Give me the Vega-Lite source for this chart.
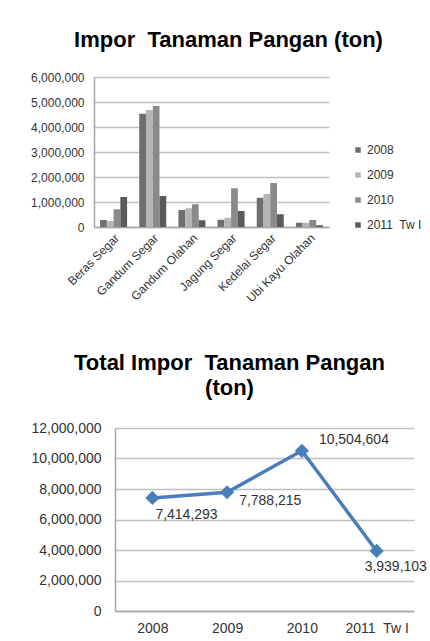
{
  "$schema": "https://vega.github.io/schema/vega-lite/v6.json",
  "background": "white",
  "padding": {"left": 29, "top": 29, "right": 0, "bottom": 0},
  "spacing": 48,
  "config": {
    "font": "Liberation Sans",
    "view": {"stroke": null},
    "axis": {"labelFont": "Liberation Sans", "labelColor": "#333333"},
    "legend": {"labelFont": "Liberation Sans", "labelColor": "#333333"},
    "title": {"font": "Liberation Sans", "color": "#000000", "fontWeight": "bold"}
  },
  "datasets": {
    "items": [
      {"item": "Beras Segar", "year": "2008", "value": 280000},
      {"item": "Beras Segar", "year": "2009", "value": 240000},
      {"item": "Beras Segar", "year": "2010", "value": 710000},
      {"item": "Beras Segar", "year": "2011\u00a0 Tw I", "value": 1200000},
      {"item": "Gandum Segar", "year": "2008", "value": 4530000},
      {"item": "Gandum Segar", "year": "2009", "value": 4680000},
      {"item": "Gandum Segar", "year": "2010", "value": 4840000},
      {"item": "Gandum Segar", "year": "2011\u00a0 Tw I", "value": 1240000},
      {"item": "Gandum Olahan", "year": "2008", "value": 680000},
      {"item": "Gandum Olahan", "year": "2009", "value": 750000},
      {"item": "Gandum Olahan", "year": "2010", "value": 910000},
      {"item": "Gandum Olahan", "year": "2011\u00a0 Tw I", "value": 270000},
      {"item": "Jagung Segar", "year": "2008", "value": 290000},
      {"item": "Jagung Segar", "year": "2009", "value": 370000},
      {"item": "Jagung Segar", "year": "2010", "value": 1550000},
      {"item": "Jagung Segar", "year": "2011\u00a0 Tw I", "value": 640000},
      {"item": "Kedelai Segar", "year": "2008", "value": 1170000},
      {"item": "Kedelai Segar", "year": "2009", "value": 1320000},
      {"item": "Kedelai Segar", "year": "2010", "value": 1760000},
      {"item": "Kedelai Segar", "year": "2011\u00a0 Tw I", "value": 510000},
      {"item": "Ubi Kayu Olahan", "year": "2008", "value": 170000},
      {"item": "Ubi Kayu Olahan", "year": "2009", "value": 170000},
      {"item": "Ubi Kayu Olahan", "year": "2010", "value": 280000},
      {"item": "Ubi Kayu Olahan", "year": "2011\u00a0 Tw I", "value": 70000}
    ],
    "totals": [
      {"year": "2008", "total": 7414293},
      {"year": "2009", "total": 7788215},
      {"year": "2010", "total": 10504604},
      {"year": "2011\u00a0 Tw I", "total": 3939103}
    ],
    "empty": []
  },
  "vconcat": [
    {
      "spacing": 0,
      "hconcat": [
        {"width": 1, "height": 1, "data": {"name": "empty"}, "mark": {"type": "point"}, "encoding": {}},
        {
          "title": {"text": "Impor\u00a0 Tanaman Pangan (ton)", "fontSize": 22, "offset": 19, "anchor": "middle", "frame": "group", "dx": 17},
          "width": 235,
          "height": 150,
          "data": {"name": "items"},
          "mark": {"type": "bar"},
          "encoding": {
            "x": {
              "field": "item", "type": "nominal", "sort": null,
              "scale": {"paddingInner": 0.31, "paddingOuter": 0.155},
              "axis": {"title": null, "labelAngle": -45, "labelFontSize": 12, "ticks": false, "domainColor": "#a6a6a6", "domainWidth": 1.5, "labelPadding": 5}
            },
            "xOffset": {"field": "year", "type": "nominal", "sort": null},
            "y": {
              "field": "value", "type": "quantitative",
              "scale": {"domain": [0, 6000000]},
              "axis": {"title": null, "values": [0, 1000000, 2000000, 3000000, 4000000, 5000000, 6000000], "format": ",d", "labelFontSize": 12, "ticks": false, "labelPadding": 10, "gridColor": "#c0c0c0", "gridWidth": 1.5, "domainColor": "#a6a6a6", "domainWidth": 1.5}
            },
            "color": {
              "field": "year", "type": "nominal", "sort": null,
              "scale": {"range": ["#6e6e6e", "#b5b5b5", "#8a8a8a", "#5a5a5a"]},
              "legend": {"title": null, "orient": "none", "legendX": 323, "legendY": 67, "symbolType": "square", "symbolSize": 30, "symbolStrokeWidth": 0, "labelFontSize": 12, "labelOffset": 3, "rowPadding": 13, "padding": 0}
            }
          }
        }
      ]
    },
    {
      "spacing": 0,
      "hconcat": [
        {"width": 1, "height": 1, "data": {"name": "empty"}, "mark": {"type": "point"}, "encoding": {}},
        {
          "title": {"text": ["Total Impor\u00a0 Tanaman Pangan", "(ton)"], "fontSize": 22, "lineHeight": 25, "offset": 21, "anchor": "middle", "frame": "group", "dx": -35},
          "width": 299,
          "height": 183,
          "data": {"name": "totals"},
          "encoding": {
            "x": {
              "field": "year", "type": "nominal", "sort": null,
              "axis": {"title": null, "labelAngle": 0, "labelFontSize": 14, "ticks": false, "domainColor": "#a6a6a6", "domainWidth": 1.5, "labelPadding": 10}
            },
            "y": {
              "field": "total", "type": "quantitative",
              "scale": {"domain": [0, 12000000]},
              "axis": {"title": null, "values": [0, 2000000, 4000000, 6000000, 8000000, 10000000, 12000000], "format": ",d", "labelFontSize": 14, "ticks": false, "labelPadding": 14, "gridColor": "#c0c0c0", "gridWidth": 1.5, "domainColor": "#a6a6a6", "domainWidth": 1.5}
            }
          },
          "layer": [
            {"mark": {"type": "line", "color": "#4a7ebb", "strokeWidth": 3.5}},
            {"mark": {"type": "point", "shape": "diamond", "filled": true, "size": 200, "color": "#4a7ebb", "opacity": 1}},
            {
              "transform": [{"filter": "datum.total == 7414293"}],
              "mark": {"type": "text", "align": "left", "baseline": "middle", "dx": 3, "dy": 17, "fontSize": 14, "color": "#333333"},
              "encoding": {"text": {"field": "total", "type": "quantitative", "format": ",d"}}
            },
            {
              "transform": [{"filter": "datum.total == 7788215"}],
              "mark": {"type": "text", "align": "left", "baseline": "middle", "dx": 12, "dy": 9, "fontSize": 14, "color": "#333333"},
              "encoding": {"text": {"field": "total", "type": "quantitative", "format": ",d"}}
            },
            {
              "transform": [{"filter": "datum.total == 10504604"}],
              "mark": {"type": "text", "align": "left", "baseline": "middle", "dx": 17, "dy": -11, "fontSize": 14, "color": "#333333"},
              "encoding": {"text": {"field": "total", "type": "quantitative", "format": ",d"}}
            },
            {
              "transform": [{"filter": "datum.total == 3939103"}],
              "mark": {"type": "text", "align": "left", "baseline": "middle", "dx": -12, "dy": 16, "fontSize": 14, "color": "#333333"},
              "encoding": {"text": {"field": "total", "type": "quantitative", "format": ",d"}}
            }
          ]
        }
      ]
    }
  ]
}
